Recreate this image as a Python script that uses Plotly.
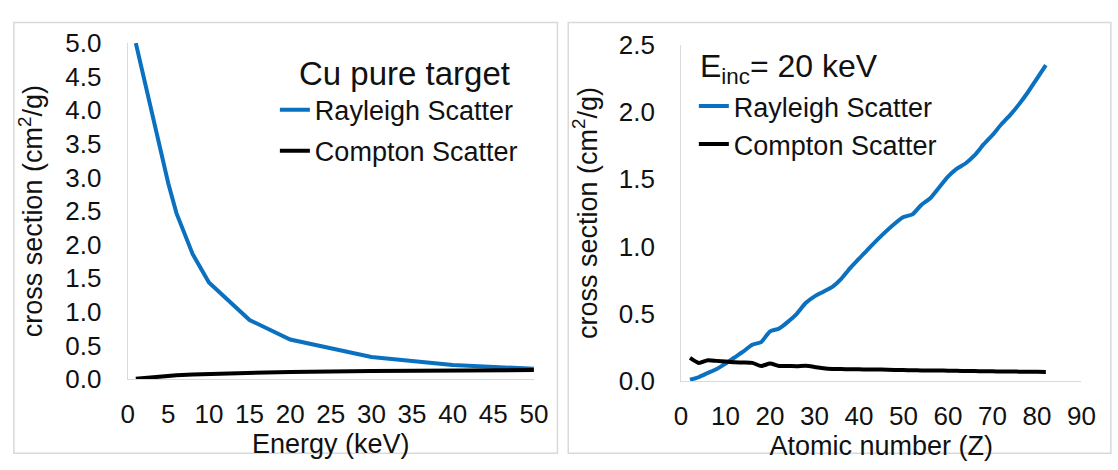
import plotly.graph_objects as go

# Cu target: cross sections vs photon energy
energy_kev = [1, 2, 3, 4, 5, 6, 8, 10, 15, 20, 30, 40, 50]
cu_rayleigh = [5.0, 4.47, 3.93, 3.42, 2.91, 2.47, 1.86, 1.44, 0.88, 0.59, 0.33, 0.21, 0.155]
cu_compton = [0.005, 0.018, 0.03, 0.04, 0.05, 0.058, 0.07, 0.078, 0.095, 0.108, 0.12, 0.128, 0.135]

# Cross sections at 20 keV vs atomic number
atomic_z = [2, 4, 6, 8, 10, 12, 14, 16, 18, 20, 22, 24, 26, 28, 30, 32, 34, 36, 38, 40,
            42, 45, 48, 50, 52, 54, 56, 58, 60, 62, 64, 66, 68, 70, 72, 74, 76, 78, 80, 82]
z_rayleigh = [0.01, 0.03, 0.06, 0.09, 0.13, 0.175, 0.22, 0.27, 0.29, 0.37, 0.39, 0.44, 0.50,
              0.58, 0.63, 0.665, 0.70, 0.76, 0.84, 0.91, 0.98, 1.08, 1.17, 1.22, 1.24, 1.31,
              1.36, 1.44, 1.52, 1.58, 1.62, 1.68, 1.76, 1.83, 1.91, 1.98, 2.06, 2.15, 2.25, 2.35]
z_compton = [0.172, 0.135, 0.155, 0.15, 0.145, 0.14, 0.138, 0.135, 0.112, 0.13, 0.112, 0.112,
             0.11, 0.113, 0.105, 0.095, 0.09, 0.089, 0.088, 0.087, 0.086, 0.085, 0.083, 0.082,
             0.08, 0.079, 0.078, 0.078, 0.077, 0.076, 0.075, 0.074, 0.073, 0.072, 0.071, 0.071,
             0.07, 0.07, 0.069, 0.068]

energy_ticks = list(range(0, 51, 5))
z_ticks = list(range(0, 91, 10))

BLUE = "#0A70C0"
BLACK = "#000000"
TEXT = "#111111"
W, H = 1118, 470
FONT = "Liberation Sans, Arial, sans-serif"

fig = go.Figure()

fig.add_trace(go.Scatter(x=energy_kev, y=cu_rayleigh, mode="lines", name="Rayleigh Scatter",
                         line=dict(color=BLUE, width=4), xaxis="x", yaxis="y",
                         legend="legend", legendgroup="a"))
fig.add_trace(go.Scatter(x=energy_kev, y=cu_compton, mode="lines", name="Compton Scatter",
                         line=dict(color=BLACK, width=4), xaxis="x", yaxis="y",
                         legend="legend", legendgroup="b"))
fig.add_trace(go.Scatter(x=atomic_z, y=z_rayleigh, mode="lines", name="Rayleigh Scatter",
                         line=dict(color=BLUE, width=4, shape="spline", smoothing=0.6),
                         xaxis="x2", yaxis="y2", legend="legend2", legendgroup="c"))
fig.add_trace(go.Scatter(x=atomic_z, y=z_compton, mode="lines", name="Compton Scatter",
                         line=dict(color=BLACK, width=4, shape="spline", smoothing=0.6),
                         xaxis="x2", yaxis="y2", legend="legend2", legendgroup="d"))


def px_x(p):
    return p / W


def px_y(p):
    return (H - p) / H


axis_common = dict(showgrid=False, zeroline=False, showline=True, linecolor="#d9d9d9",
                   linewidth=1, ticks="", tickfont=dict(size=26, color=TEXT))
x_common = dict(ticklabelstandoff=12, **axis_common)
y_common = dict(ticklabelstandoff=20, **axis_common)
title_font = dict(size=27, color=TEXT)
legend_font = dict(size=27, color=TEXT)
heading_font = dict(size=33, color=TEXT)

fig.update_layout(
    width=W, height=H,
    margin=dict(l=0, r=0, t=0, b=0),
    paper_bgcolor="white", plot_bgcolor="white",
    font=dict(family=FONT, color=TEXT),
    xaxis=dict(domain=[px_x(123), px_x(537)], range=[0, 50], tickvals=energy_ticks,
               anchor="y",
               title=dict(text="Energy (keV)", font=title_font, standoff=1),
               **x_common),
    yaxis=dict(domain=[px_y(389), px_y(30)], range=[0, 5], dtick=0.5, tickformat=".1f",
               anchor="x",
               title=dict(text="cross section (cm<sup>2</sup>/g)", font=title_font,
                          standoff=14),
               **y_common),
    xaxis2=dict(domain=[px_x(687), px_x(1095)], range=[0, 90], tickvals=z_ticks,
                anchor="y2",
                title=dict(text="Atomic number (Z)", font=title_font, standoff=1),
                **x_common),
    yaxis2=dict(domain=[px_y(391), px_y(32)], range=[0, 2.5], dtick=0.5, tickformat=".1f",
                anchor="x2",
                title=dict(text="cross section (cm<sup>2</sup>/g)", font=title_font,
                           standoff=13),
                **y_common),
    legend=dict(x=px_x(273), y=px_y(123.5), xanchor="left", yanchor="middle",
                bgcolor="rgba(0,0,0,0)", font=legend_font,
                tracegroupgap=3, itemwidth=30),
    legend2=dict(x=px_x(700), y=px_y(118), xanchor="left", yanchor="middle",
                 bgcolor="rgba(0,0,0,0)", font=legend_font,
                 tracegroupgap=0, itemwidth=30),
    annotations=[
        dict(text="Cu pure target", xref="paper", yref="paper",
             x=px_x(405), y=px_y(62), xanchor="center", yanchor="middle",
             showarrow=False, font=heading_font),
        dict(text="E<sub>inc</sub>= 20 keV", xref="paper", yref="paper",
             x=px_x(704), y=px_y(57), xanchor="left", yanchor="middle",
             showarrow=False, font=dict(size=32, color=TEXT)),
    ],
    shapes=[
        dict(type="rect", xref="paper", yref="paper",
             x0=px_x(7), x1=px_x(561), y0=px_y(468), y1=px_y(8),
             line=dict(color="#d9d9d9", width=1.5), layer="below"),
        dict(type="rect", xref="paper", yref="paper",
             x0=px_x(572), x1=px_x(1125), y0=px_y(468), y1=px_y(8),
             line=dict(color="#d9d9d9", width=1.5), layer="below"),
    ],
)

fig.write_html("out.html")
